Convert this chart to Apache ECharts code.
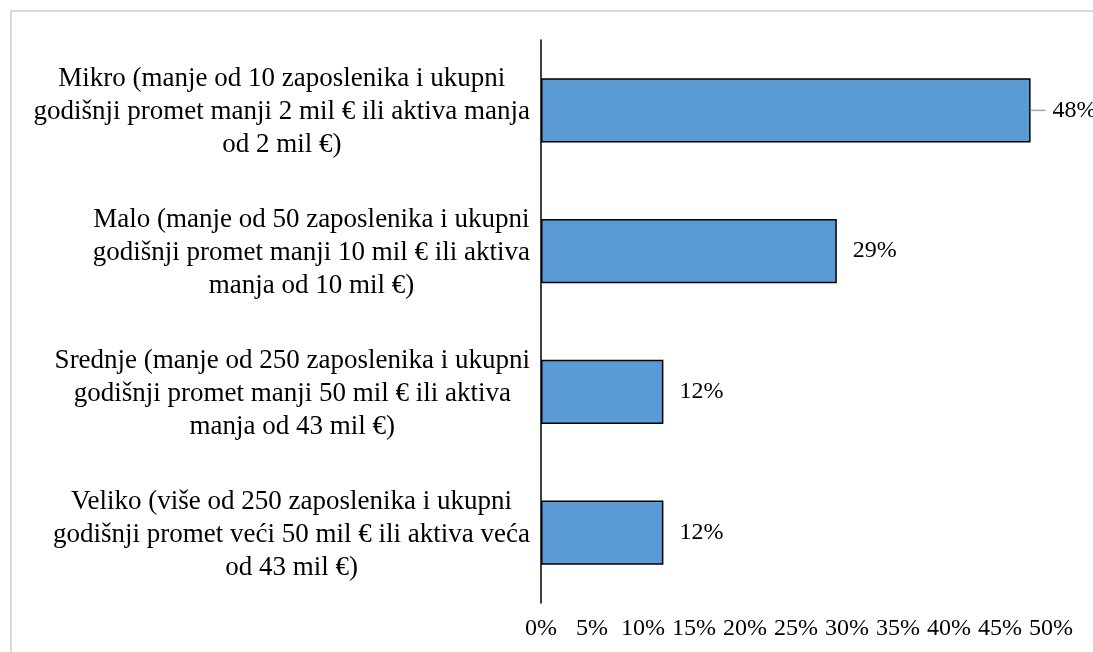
<!DOCTYPE html>
<html>
<head>
<meta charset="utf-8">
<script src="https://cdn.jsdelivr.net/npm/echarts@6/dist/echarts.min.js"></script>
<style>
  html, body { margin: 0; padding: 0; background: #ffffff; }
  #chart { width: 1093px; height: 652px; }
</style>
</head>
<body>
<div id="chart"></div>
<script>
// Enterprise size classes (top to bottom) and their shares in percent
const categories = [
  'Mikro (manje od 10 zaposlenika i ukupni\ngodišnji promet manji 2 mil € ili aktiva manja\nod 2 mil €)',
  'Malo (manje od 50 zaposlenika i ukupni\ngodišnji promet manji 10 mil € ili aktiva\nmanja od 10 mil €)',
  'Srednje (manje od 250 zaposlenika i ukupni\ngodišnji promet manji 50 mil € ili aktiva\nmanja od 43 mil €)',
  'Veliko (više od 250 zaposlenika i ukupni\ngodišnji promet veći 50 mil € ili aktiva veća\nod 43 mil €)'
];
const shares = [48, 29, 12, 12];
const tickValues = [0, 5, 10, 15, 20, 25, 30, 35, 40, 45, 50];

const serif = "'Liberation Serif', 'Times New Roman', serif";

// The longest bar's label sits a little further out, joined to the bar by a short leader
const barData = shares.map((v, i) => i === 0
  ? { value: v, label: { distance: 0, formatter: '{ln|}{gap|}{v|{c}%}' } }
  : v);

const chart = echarts.init(document.getElementById('chart'), null, { renderer: 'canvas' });
chart.setOption({
  animation: false,
  backgroundColor: '#ffffff',
  graphic: [{
    type: 'rect',
    shape: { x: 11, y: 11, width: 1200, height: 800 },
    style: { fill: 'none', stroke: '#d9d9d9', lineWidth: 2 },
    silent: true,
    z: -1
  }],
  grid: { left: 541, top: 40, width: 510, height: 563, containLabel: false },
  xAxis: {
    type: 'value',
    min: tickValues[0],
    max: tickValues[tickValues.length - 1],
    interval: 5,
    axisLine: { show: false },
    axisTick: { show: false },
    splitLine: { show: false },
    axisLabel: {
      formatter: '{value}%',
      color: '#000000',
      fontFamily: serif,
      fontSize: 24,
      margin: 14,
      showMinLabel: true,
      showMaxLabel: true
    }
  },
  yAxis: {
    type: 'category',
    inverse: true,
    data: categories,
    axisLine: { show: true, lineStyle: { color: '#000000', width: 1.5 } },
    axisTick: { show: false },
    axisLabel: {
      margin: 11,
      align: 'right',
      padding: [4, 0, 0, 0],
      formatter: (v) => v.split('\n').map(l => '{c|' + l + '}').join('\n'),
      rich: {
        c: { align: 'center', fontFamily: serif, fontSize: 27, lineHeight: 33, color: '#000000' }
      }
    }
  },
  series: [{
    type: 'bar',
    data: barData,
    barWidth: '45.5%',
    itemStyle: { color: '#5b9bd5', borderColor: '#000000', borderWidth: 1.5 },
    label: {
      show: true,
      position: 'right',
      distance: 16,
      formatter: '{c}%',
      color: '#000000',
      fontFamily: serif,
      fontSize: 24,
      rich: {
        ln: { width: 15, height: 1.5, backgroundColor: '#a6a6a6', verticalAlign: 'middle' },
        gap: { width: 7 },
        v: { fontFamily: serif, fontSize: 24, color: '#000000' }
      }
    }
  }]
});
</script>
</body>
</html>
